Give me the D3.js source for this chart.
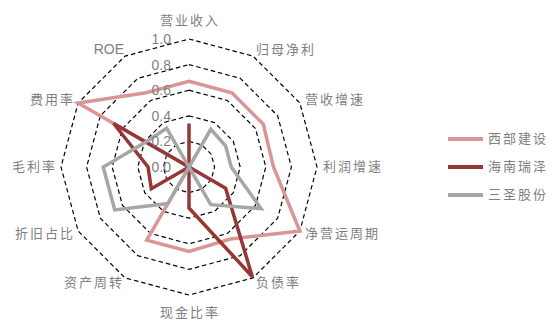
<!DOCTYPE html>
<html>
<head>
<meta charset="utf-8">
<script src="https://cdn.jsdelivr.net/npm/d3@7"></script>
<style>
  body { margin: 0; background: #fff; }
  text { font-family: "Noto Sans CJK SC", "Liberation Sans", sans-serif; }
</style>
</head>
<body>
<div id="chart"></div>
<script>
// axes, clockwise from the top
const categories = ["营业收入", "归母净利", "营收增速", "利润增速", "净营运周期", "负债率",
                    "现金比率", "资产周转", "折旧占比", "毛利率", "费用率", "ROE"];
const seriesNames = ["西部建设", "海南瑞泽", "三圣股份"];
const xibu     = [0.67, 0.67, 0.67, 0.66, 1.00, 0.65, 0.66, 0.66, 0.00, 0.00, 1.00, 0.67];
const hainan   = [0.34, 0.00, 0.00, 0.00, 0.33, 0.99, 0.32, 0.00, 0.34, 0.32, 0.68, 0.00];
const sansheng = [0.00, 0.34, 0.33, 0.33, 0.65, 0.34, 0.00, 0.33, 0.67, 0.67, 0.39, 0.35];
const tickValues = [0, 0.2, 0.4, 0.6, 0.8, 1.0];

const width = 551, height = 320;
const cx = 189, cy = 167, R = 128;
const colors = ["#d99694", "#953735", "#a6a6a6"];
const series = [xibu, hainan, sansheng];

const svg = d3.select("#chart").append("svg")
  .attr("width", width).attr("height", height);

const r = d3.scaleLinear().domain([0, 1]).range([0, R]);
const angle = d3.scaleLinear().domain([0, categories.length]).range([0, 2 * Math.PI]);

const g = svg.append("g").attr("transform", "translate(" + cx + "," + cy + ")");

// dashed rings
const ring = d3.lineRadial()
  .angle((d, i) => angle(i))
  .radius(d => r(d))
  .curve(d3.curveLinearClosed);

g.append("g").selectAll("path")
  .data(tickValues.filter(t => t > 0))
  .join("path")
    .attr("d", t => ring(categories.map(() => t)))
    .attr("fill", "none")
    .attr("stroke", "#000")
    .attr("stroke-width", 1.2)
    .attr("stroke-dasharray", "4.5,3");

// series
g.append("g").selectAll("path")
  .data(series)
  .join("path")
    .attr("d", d => ring(d))
    .attr("fill", "none")
    .attr("stroke", (d, i) => colors[i])
    .attr("stroke-width", 3.5)
    .attr("stroke-linejoin", "miter");

// tick labels
g.append("g").selectAll("text")
  .data(tickValues)
  .join("text")
    .attr("x", -18)
    .attr("y", t => -r(t))
    .attr("text-anchor", "end")
    .attr("dominant-baseline", "central")
    .attr("fill", "#7f7f7f")
    .style("font-family", "'Liberation Sans', Arial, sans-serif")
    .style("font-size", "14px")
    .text(t => t.toFixed(1));

// axis labels
g.append("g").selectAll("text")
  .data(categories)
  .join("text")
    .each(function(d, i) {
      const a = angle(i);
      const s = Math.sin(a), c = Math.cos(a);
      const el = d3.select(this);
      if (Math.abs(s) < 0.01) {
        el.attr("x", 1).attr("y", -c * 146 - 2).attr("text-anchor", "middle");
      } else {
        el.attr("x", s * 134 + (s < 0 ? 2 : 0)).attr("y", -c * 134 - 2)
          .attr("text-anchor", s > 0 ? "start" : "end");
      }
    })
    .attr("dominant-baseline", "central")
    .attr("fill", "#7f7f7f")
    .style("font-size", d => d === "ROE" ? "14px" : "13px")
    .style("font-family", d => d === "ROE" ? "'Liberation Sans', Arial, sans-serif" : null)
    .style("letter-spacing", d => d === "ROE" ? "0px" : "2px")
    .text(d => d);

// legend
const legend = svg.append("g").selectAll("g")
  .data(seriesNames)
  .join("g")
    .attr("transform", (d, i) => "translate(448," + (139 + i * 28) + ")");

legend.append("line")
  .attr("x1", 0).attr("x2", 35)
  .attr("stroke", (d, i) => colors[i])
  .attr("stroke-width", 4);

legend.append("text")
  .attr("x", 40)
  .attr("y", -2)
  .attr("dominant-baseline", "central")
  .attr("fill", "#7f7f7f")
  .style("font-size", "13px")
  .style("letter-spacing", "2px")
  .text(d => d);
</script>
</body>
</html>
